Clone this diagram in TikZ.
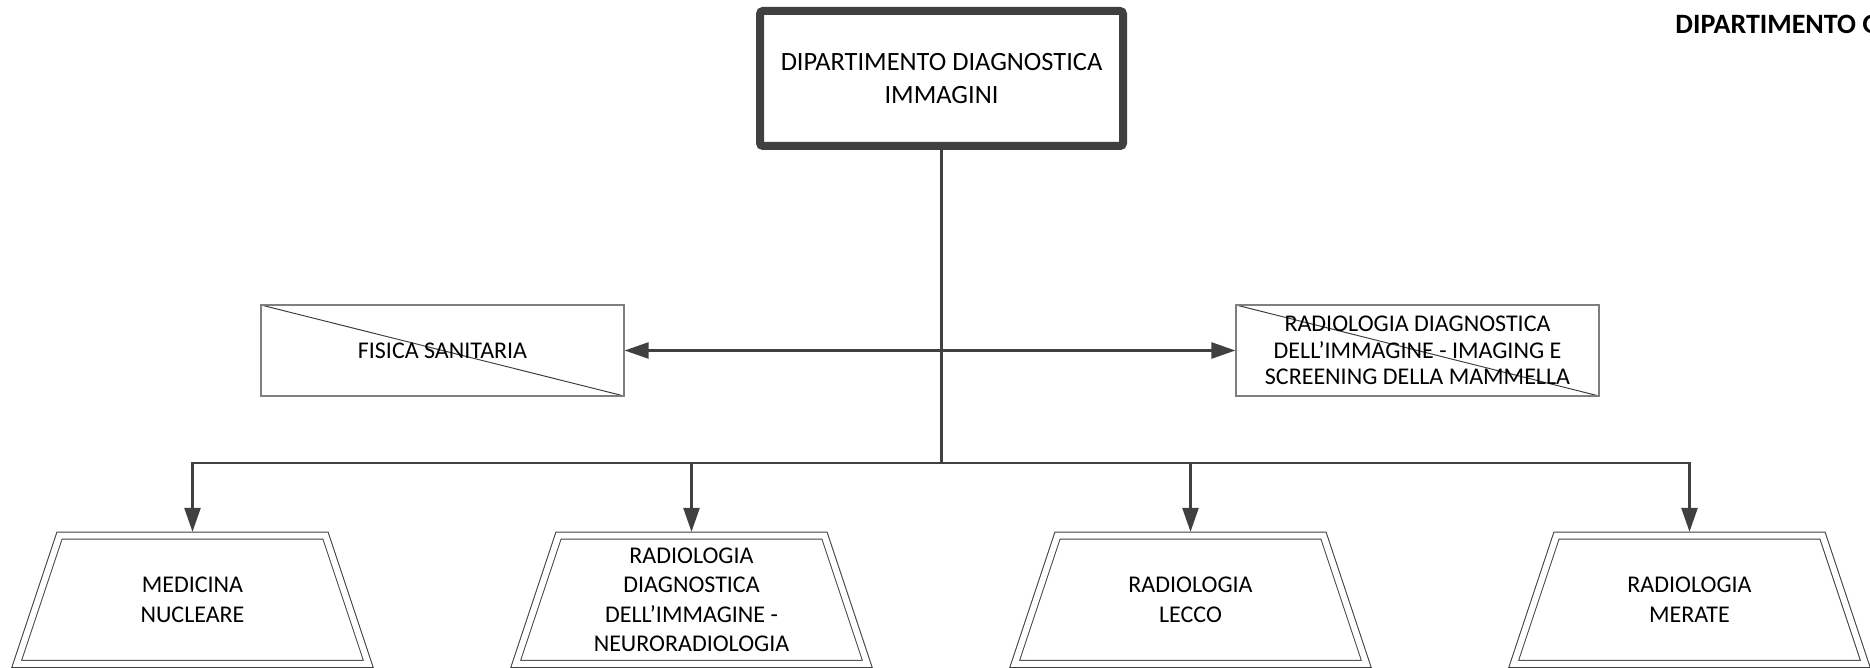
\documentclass[tikz,border=0pt]{standalone}
\usepackage{fontspec}
\setmainfont{Carlito}
\usetikzlibrary{arrows.meta}
\definecolor{linegray}{HTML}{404040}
\definecolor{boxgray}{HTML}{7F7F7F}

\begin{document}
\begin{tikzpicture}[x=0.5pt,y=-0.5pt,
    headbox/.style={draw=linegray, line width=4pt, rounded corners=1.5pt, minimum width=181.5pt, minimum height=67.5pt, align=center, font=\fontsize{13.2}{16.5}\selectfont},
    staffbox/.style={draw=boxgray, line width=0.6pt, minimum width=181.5pt, minimum height=45.5pt, inner sep=0pt, align=center, font=\fontsize{12}{13.25}\selectfont,
      path picture={\draw[linegray, line width=0.5pt] (path picture bounding box.north west) -- (path picture bounding box.south east);}},
    unitbox/.style={minimum width=133pt, minimum height=67.5pt, inner sep=0pt, align=center, font=\fontsize{12}{14.75}\selectfont},
    unitline/.style={draw=linegray, line width=0.5pt, double=white, double distance=3pt},
    link/.style={draw=linegray, line width=1.25pt},
    arr/.style={link, -{Triangle[length=12pt, width=8pt]}},
    twoarr/.style={link, {Triangle[length=12pt, width=8pt]}-{Triangle[length=12pt, width=8pt]}},
  ]
    \useasboundingbox (0,0) rectangle (1870,668);

    % Department box
    \node[headbox] (dip) at (941.5,78.5) {DIPARTIMENTO DIAGNOSTICA\\IMMAGINI};
    \node[anchor=west, inner sep=0pt, font=\fontsize{14}{17}\selectfont\bfseries] (other) at (1675,24) {DIPARTIMENTO G};

    % Staff boxes
    \node[staffbox] (fisica) at (442.5,350.5) {FISICA SANITARIA};
    \node[staffbox] (mammella) at (1417.5,350.5) {RADIOLOGIA DIAGNOSTICA\\DELL'IMMAGINE - IMAGING E\\SCREENING DELLA MAMMELLA};

    % Units
    \node[unitbox] (medicina) at (192.5,599.75) {MEDICINA\\NUCLEARE};
    \node[unitbox] (neuro) at (691.5,599.75) {RADIOLOGIA\\DIAGNOSTICA\\DELL'IMMAGINE -\\NEURORADIOLOGIA};
    \node[unitbox] (lecco) at (1190.5,599.75) {RADIOLOGIA\\LECCO};
    \node[unitbox] (merate) at (1689.5,599.75) {RADIOLOGIA\\MERATE};

    % Trapezoid outlines
    \foreach \u in {medicina,neuro,lecco,merate}
      \draw[unitline] ([xshift=-66.5pt,yshift=32.1pt]\u.center) -- ([xshift=66.5pt,yshift=32.1pt]\u.center)
        -- ([xshift=87.9pt,yshift=-32.1pt]\u.center) -- ([xshift=-87.9pt,yshift=-32.1pt]\u.center) -- cycle;

    % Connectors
    \coordinate (bus) at (941.5,463);
    \draw[link] (dip.south) -- (bus);
    \draw[twoarr] (fisica.east) -- (mammella.west);
    \draw[arr] (bus) -| (medicina.north);
    \draw[arr] (bus) -| (neuro.north);
    \draw[arr] (bus) -| (lecco.north);
    \draw[arr] (bus) -| (merate.north);
\end{tikzpicture}
\end{document}
